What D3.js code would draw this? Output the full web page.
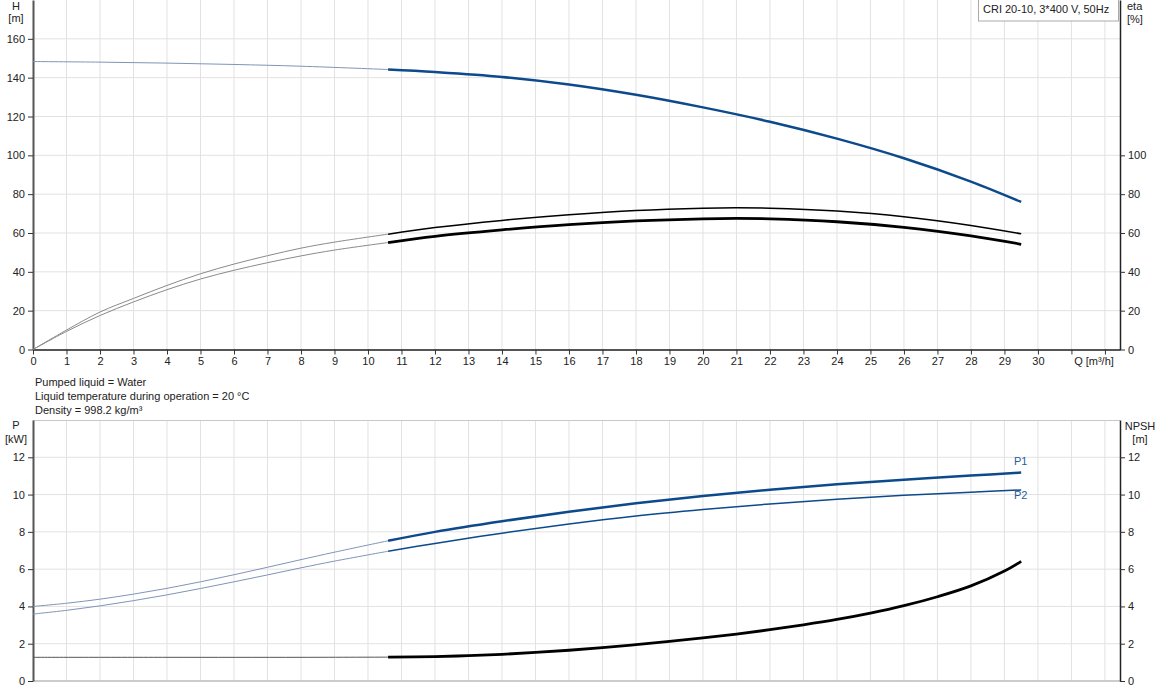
<!DOCTYPE html>
<html>
<head>
<meta charset="utf-8">
<script src="https://cdn.jsdelivr.net/npm/d3@7"></script>
<style>
  body { margin: 0; background: #fff; }
  svg { display: block; font-family: "Liberation Sans", Arial, sans-serif; font-size: 11px; }
  .grid line { stroke: #e2e2e2; stroke-width: 1; }
  .txt { fill: #222; }
</style>
</head>
<body>
<div id="chart"></div>
<script>
// flow where the thin (extrapolated) part of each curve ends
const qSplit = 10.6;

// head curve
const qH = [0, 2, 4, 6, 8, 10.6, 12, 14, 16, 18, 20, 22, 24, 26, 28, 29.5];
const headH = [148.3, 148.0, 147.5, 146.8, 145.9, 144.2, 142.9, 140.4, 136.5, 131.2, 124.7, 117.3, 108.6, 98.5, 86.5, 76];

// efficiency curves (upper thin, lower thick)
const qEta = [0, 1, 2, 3, 4, 5, 6, 7, 8, 9, 10.6, 12, 14, 16, 18, 20, 21, 22, 24, 26, 28, 29.5];
const eta1 = [0, 10, 19.3, 26.3, 33, 39, 44, 48.3, 52.2, 55.3, 59.4, 62.8, 66.5, 69.4, 71.6, 72.8, 73.0, 72.8, 71.3, 68.4, 63.9, 59.6];
const eta2 = [0, 9.3, 17.5, 24.5, 30.8, 36.3, 40.8, 44.7, 48.2, 51.2, 55.1, 58.3, 61.6, 64.3, 66.2, 67.3, 67.5, 67.3, 65.8, 62.9, 58.5, 54.2];

// power curves
const qP = [0, 1, 2, 3, 4, 5, 6, 7, 8, 9, 10.6, 12, 14, 16, 18, 20, 22, 24, 26, 28, 29.5];
const p1 = [4.0, 4.17, 4.39, 4.66, 4.97, 5.32, 5.70, 6.10, 6.51, 6.91, 7.52, 8.0, 8.57, 9.08, 9.53, 9.92, 10.26, 10.55, 10.8, 11.02, 11.18];
const p2 = [3.59, 3.79, 4.03, 4.31, 4.62, 4.96, 5.32, 5.69, 6.07, 6.43, 6.96, 7.38, 7.93, 8.42, 8.85, 9.2, 9.5, 9.75, 9.96, 10.13, 10.25];

// NPSH curve
const qN = [0, 4, 8, 10.6, 12, 13, 14, 15, 16, 17, 18, 19, 20, 21, 22, 23, 24, 25, 26, 27, 28, 29, 29.5];
const npsh = [1.27, 1.27, 1.27, 1.28, 1.31, 1.36, 1.43, 1.53, 1.65, 1.79, 1.95, 2.12, 2.31, 2.52, 2.75, 3.01, 3.3, 3.64, 4.04, 4.52, 5.1, 5.9, 6.42];

// tick labels
const hTicks = [0, 20, 40, 60, 80, 100, 120, 140, 160];
const etaTicks = [0, 20, 40, 60, 80, 100];
const pTicks = [0, 2, 4, 6, 8, 10, 12];
const infoLines = ["Pumped liquid = Water", "Liquid temperature during operation = 20 °C", "Density = 998.2 kg/m³"];
const title = "CRI 20-10, 3*400 V, 50Hz";

const W = 1162, H = 700;
const left = 33, right = 1120;
const blue = "#0c4a8c", thinBlue = "#7f95b8";

const svg = d3.select("#chart").append("svg").attr("width", W).attr("height", H);

const x = d3.scaleLinear().domain([0, 32.45]).range([left, right]);
const yTop = d3.scaleLinear().domain([0, 180]).range([349.5, 0]);
const yBot = d3.scaleLinear().domain([0, 14]).range([681, 420]);

// grids
function grid(y, yTicks) {
  const g = svg.append("g").attr("class", "grid");
  g.selectAll(".v").data(d3.range(1, 33)).enter().append("line")
    .attr("x1", d => x(d)).attr("x2", d => x(d))
    .attr("y1", y.range()[1]).attr("y2", y.range()[0]);
  g.selectAll(".h").data(yTicks.filter(d => d > 0)).enter().append("line")
    .attr("x1", left).attr("x2", right)
    .attr("y1", d => y(d)).attr("y2", d => y(d));
}
grid(yTop, hTicks);
grid(yBot, pTicks);

// top border of lower plot
svg.append("line").attr("x1", left).attr("x2", right).attr("y1", 420.5).attr("y2", 420.5)
  .attr("stroke", "#c8c8c8");

// axes
function styleAxis(g, color, w) {
  g.select(".domain").attr("stroke", color).attr("stroke-width", w);
  g.selectAll(".tick line").attr("stroke", "#333");
  g.selectAll(".tick text").attr("fill", "#222").style("font-size", "11px")
    .style("font-family", "Liberation Sans, Arial, sans-serif");
}

const xAxisTop = d3.axisBottom(x).tickValues(d3.range(0, 33)).tickSize(5).tickSizeOuter(0)
  .tickFormat(d => d <= 30 ? d : "");
svg.append("g").attr("transform", "translate(0,349.5)").call(xAxisTop)
  .call(g => styleAxis(g, "#555", 2));

svg.append("g").attr("transform", `translate(${left},0)`)
  .call(d3.axisLeft(yTop).tickValues(hTicks).tickSize(5).tickSizeOuter(0))
  .call(g => styleAxis(g, "#555", 2));
svg.append("g").attr("transform", `translate(${right},0)`)
  .call(d3.axisRight(yTop).tickValues(etaTicks).tickSize(5).tickSizeOuter(0))
  .call(g => styleAxis(g, "#222", 1.5));

svg.append("line").attr("x1", left).attr("x2", right).attr("y1", 681).attr("y2", 681)
  .attr("stroke", "#bbb").attr("stroke-width", 1.5);
svg.append("g").attr("transform", `translate(${left},0)`)
  .call(d3.axisLeft(yBot).tickValues(pTicks).tickSize(5).tickSizeOuter(0))
  .call(g => styleAxis(g, "#555", 2));
svg.append("g").attr("transform", `translate(${right},0)`)
  .call(d3.axisRight(yBot).tickValues(pTicks).tickSize(5).tickSizeOuter(0))
  .call(g => styleAxis(g, "#222", 1.5));

// axis titles
function label(tx, ty, t, anchor) {
  svg.append("text").attr("class", "txt").attr("x", tx).attr("y", ty)
    .attr("text-anchor", anchor || "middle").text(t);
}
label(16, 10, "H"); label(16, 22, "[m]");
label(1127, 10, "eta", "start"); label(1127, 23, "[%]", "start");
label(1094, 365, "Q [m³/h]");
label(16, 429, "P"); label(16, 443, "[kW]");
label(1140, 430, "NPSH"); label(1140, 443, "[m]");

infoLines.forEach((t, i) => label(35, 386 + i * 14, t, "start"));

// title box
svg.append("rect").attr("x", 978.5).attr("y", -1).attr("width", 140).attr("height", 22)
  .attr("fill", "#fff").attr("stroke", "#aaa");
label(983, 13, title, "start");

// curves, thin part then thick part
function curve(qs, vs, y, thinColor, thinW, color, w) {
  const pts = qs.map((q, i) => [q, vs[i]]);
  const line = d3.line().x(d => x(d[0])).y(d => y(d[1])).curve(d3.curveCatmullRom.alpha(0.5));
  svg.append("path").attr("d", line(pts.filter(d => d[0] <= qSplit)))
    .attr("fill", "none").attr("stroke", thinColor).attr("stroke-width", thinW);
  svg.append("path").attr("d", line(pts.filter(d => d[0] >= qSplit)))
    .attr("fill", "none").attr("stroke", color).attr("stroke-width", w);
}

curve(qH, headH, yTop, thinBlue, 1, blue, 2.5);
curve(qEta, eta1, yTop, "#8a8a8a", 1, "#000", 1.5);
curve(qEta, eta2, yTop, "#8a8a8a", 1, "#000", 2.8);
curve(qP, p1, yBot, thinBlue, 1, blue, 2.5);
curve(qP, p2, yBot, thinBlue, 1, blue, 1.5);
curve(qN, npsh, yBot, "#555", 1, "#000", 2.8);

svg.append("text").attr("x", 1014).attr("y", 465).attr("fill", "#2a5c9c").text("P1");
svg.append("text").attr("x", 1014).attr("y", 499).attr("fill", "#2a5c9c").text("P2");
</script>
</body>
</html>
